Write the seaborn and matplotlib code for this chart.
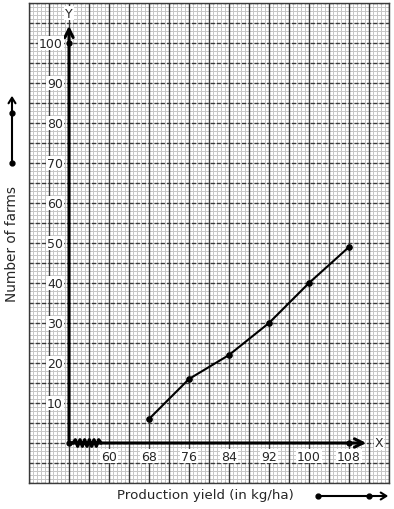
import numpy as np
import pandas as pd
import matplotlib
matplotlib.use("Agg")
import matplotlib.pyplot as plt
import seaborn as sns

# ogive data (less than type)
yield_upper = [68, 76, 84, 92, 100, 108]
num_farms = [6, 16, 22, 30, 40, 49]
x_ticks = [60, 68, 76, 84, 92, 100, 108]
y_ticks = [10, 20, 30, 40, 50, 60, 70, 80, 90, 100]

df = pd.DataFrame({"yield": yield_upper, "farms": num_farms})

sns.set_style("white")
plt.rcParams['font.family'] = ['DejaVu Sans']

fig = plt.figure(figsize=(3.94, 5.10), dpi=100)
ax = fig.add_axes([29 / 394, 26 / 510, 360 / 394, 480 / 510])
ax.set_xlim(44, 116)
ax.set_ylim(-10, 110)

# graph paper
for v in np.arange(44, 116.01, 0.8):
    ax.axvline(v, color='#c6c6c6', lw=0.7, zorder=0)
for v in np.arange(-10, 110.01, 1):
    ax.axhline(v, color='#c6c6c6', lw=0.7, zorder=0)
for v in np.arange(44, 116.01, 4):
    ax.axvline(v, color='#3a3a3a', lw=1.0, zorder=1)
for v in np.arange(-10, 110.01, 5):
    ax.axhline(v, color='#3a3a3a', lw=1.0, ls=(0, (3, 1.5)), zorder=1)

ax.set_xticks([])
ax.set_yticks([])
for s in ax.spines.values():
    s.set_color('#3a3a3a')
    s.set_linewidth(1.0)

# axes with arrows
ax.annotate('', xy=(52, 105), xytext=(52, 0),
            arrowprops=dict(arrowstyle='->,head_length=0.6,head_width=0.3', lw=2.2, color='black'), zorder=5)
ax.annotate('', xy=(112, 0), xytext=(52, 0),
            arrowprops=dict(arrowstyle='->,head_length=0.6,head_width=0.3', lw=2.2, color='black'), zorder=5)
ax.text(52, 107.5, 'Y', ha='center', va='center', fontsize=9,
        bbox=dict(facecolor='white', edgecolor='none', pad=0.5), zorder=6)
ax.text(114, 0, 'X', ha='center', va='center', fontsize=9,
        bbox=dict(facecolor='white', edgecolor='none', pad=0.5), zorder=6)

# kink on x axis
zx = np.linspace(52.8, 58.4, 13)
zy = np.array([0] + [0.8, -0.8] * 5 + [0.8, 0])
ax.plot(zx, zy, color='black', lw=2.4, zorder=6)
ax.plot([52, 52, 108], [0, 100, 0], 'o', color='black', ms=3.5, zorder=7)

# tick labels
for t in x_ticks:
    ax.text(t, -3.3, str(t), ha='center', va='center', fontsize=9,
            bbox=dict(facecolor='white', edgecolor='none', pad=0.5), zorder=6)
for t in y_ticks:
    ax.text(50.8, t, str(t), ha='right', va='center', fontsize=9,
            bbox=dict(facecolor='white', edgecolor='none', pad=0.5), zorder=6)

# ogive
sns.lineplot(data=df, x='yield', y='farms', color='black', lw=1.5,
             marker='o', markersize=4, markeredgecolor='black', ax=ax, zorder=8)
ax.set_xlabel('')
ax.set_ylabel('')

# outer labels and scale arrows
fig.text(205 / 394, 1 - 496 / 510, 'Production yield (in kg/ha)', ha='center', va='center', fontsize=9.6)
fig.text(12 / 394, 1 - 244 / 510, 'Number of farms', ha='center', va='center', rotation=90, fontsize=9.8)

fig.add_artist(matplotlib.patches.FancyArrowPatch(
    (318 / 394, 1 - 497 / 510), (391 / 394, 1 - 497 / 510), transform=fig.transFigure,
    arrowstyle='->,head_length=4,head_width=2.5', lw=1.5, color='black'))
fig.add_artist(matplotlib.patches.FancyArrowPatch(
    (12 / 394, 1 - 164 / 510), (12 / 394, 1 - 94 / 510), transform=fig.transFigure,
    arrowstyle='->,head_length=4,head_width=2.5', lw=1.5, color='black'))
fig.lines.append(matplotlib.lines.Line2D([318 / 394, 369 / 394], [1 - 497 / 510] * 2, transform=fig.transFigure,
                                         ls='none', marker='o', ms=3.5, color='black'))
fig.lines.append(matplotlib.lines.Line2D([12 / 394] * 2, [1 - 164 / 510, 1 - 114 / 510], transform=fig.transFigure,
                                         ls='none', marker='o', ms=3.5, color='black'))

fig.savefig('out.png', dpi=100)
